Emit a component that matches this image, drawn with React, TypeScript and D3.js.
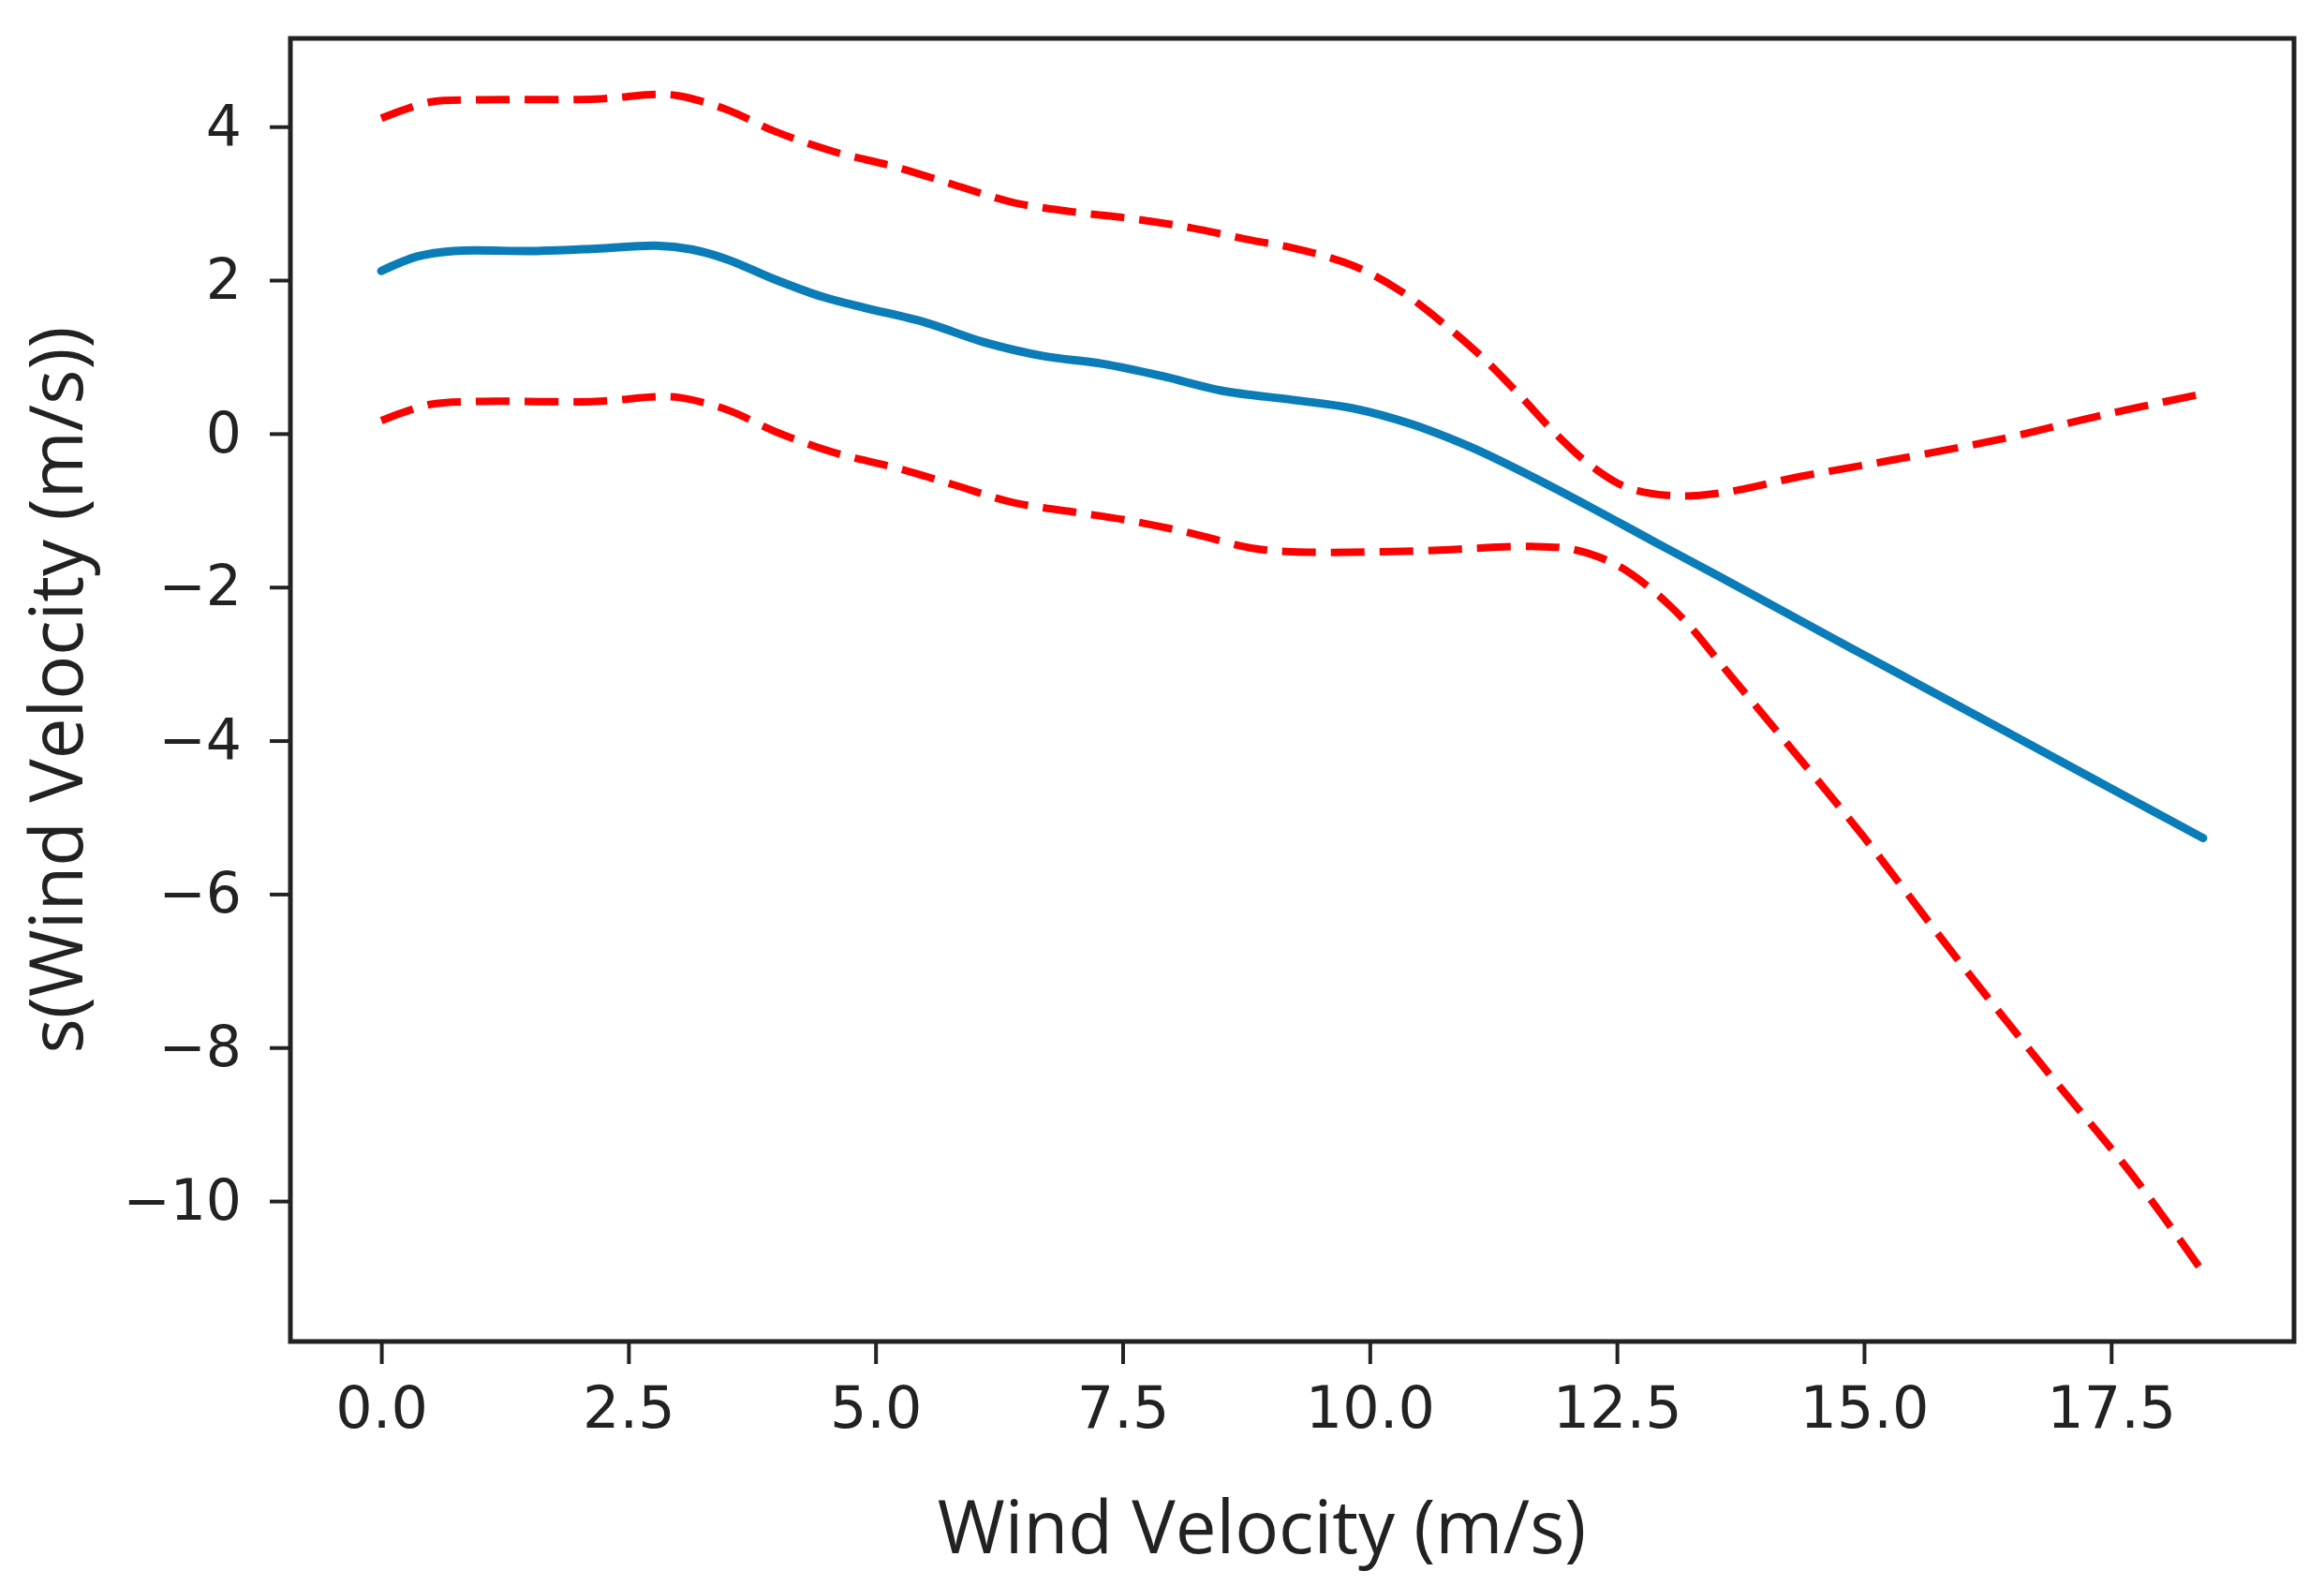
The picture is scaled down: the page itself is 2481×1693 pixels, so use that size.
import { useEffect, useRef } from 'react'
import * as d3 from 'd3'

const W = 2481
const H = 1693

// partial dependence (blue) and its confidence bounds (red dashed)
const meanX = [0, 0.37, 0.73, 1.57, 2.17, 2.78, 3.14, 3.5, 3.98, 4.47, 4.89, 5.5, 6.1, 6.7, 7.3, 7.9, 8.5, 9.22, 9.83, 10.43, 11.03, 11.64, 12.25, 12.85, 13.52, 14.79, 16.06, 17.32, 18.43]
const meanY = [2.12, 2.31, 2.38, 2.38, 2.41, 2.45, 2.40, 2.27, 2.01, 1.78, 1.64, 1.45, 1.19, 1.01, 0.91, 0.75, 0.56, 0.44, 0.33, 0.12, -0.18, -0.56, -0.97, -1.39, -1.85, -2.74, -3.62, -4.50, -5.27]

const upperX = [0, 0.49, 0.97, 2.17, 2.78, 3.02, 3.5, 3.98, 4.59, 5.19, 5.8, 6.4, 7.0, 7.6, 8.2, 8.8, 9.22, 9.83, 10.31, 10.73, 11.15, 11.51, 11.88, 12.24, 12.6, 13.08, 13.57, 14.35, 15.26, 16.46, 17.37, 18.43]
const upperY = [4.11, 4.32, 4.35, 4.36, 4.42, 4.40, 4.22, 3.94, 3.67, 3.48, 3.24, 3.01, 2.89, 2.80, 2.68, 2.52, 2.42, 2.19, 1.86, 1.45, 0.98, 0.51, 0.0, -0.42, -0.70, -0.81, -0.77, -0.56, -0.35, -0.05, 0.23, 0.52]

const lowerX = [0, 0.49, 0.97, 2.17, 2.78, 3.02, 3.5, 3.98, 4.59, 5.19, 5.8, 6.4, 7.0, 7.6, 8.2, 8.8, 9.22, 10.43, 11.64, 12.06, 12.48, 12.85, 13.21, 13.57, 14.1, 15.0, 15.91, 16.82, 17.72, 18.43]
const lowerY = [0.17, 0.38, 0.42, 0.42, 0.48, 0.47, 0.31, 0.03, -0.25, -0.44, -0.67, -0.90, -1.02, -1.14, -1.30, -1.49, -1.54, -1.53, -1.47, -1.51, -1.70, -2.03, -2.47, -3.03, -3.85, -5.26, -6.79, -8.26, -9.67, -10.93]

const xTicks = [0, 2.5, 5, 7.5, 10, 12.5, 15, 17.5]
const yTicks = [4, 2, 0, -2, -4, -6, -8, -10]

const xLabel = 'Wind Velocity (m/s)'
const yLabel = 's(Wind Velocity (m/s))'

export default function App() {
  const svgRef = useRef<SVGSVGElement>(null)

  useEffect(() => {
    const svg = svgRef.current
    if (!svg) return
    const sel = d3.select(svg)
    sel.selectAll('*').remove()

    const margin = { top: 41, right: W - 2449, bottom: H - 1432, left: 310 }
    const iw = W - margin.left - margin.right
    const ih = H - margin.top - margin.bottom

    const x = d3.scaleLinear().domain([-0.92, 19.35]).range([0, iw])
    const y = d3.scaleLinear().domain([-11.83, 5.15]).range([ih, 0])

    sel.append('rect').attr('width', W).attr('height', H).attr('fill', '#fff')

    const g = sel.append('g').attr('transform', `translate(${margin.left},${margin.top})`)

    const line = d3.line<[number, number]>()
      .x(d => x(d[0])).y(d => y(d[1]))
      .curve(d3.curveCatmullRom.alpha(0.5))

    const zip = (xs: number[], ys: number[]) => xs.map((v, i) => [v, ys[i]] as [number, number])

    // 신뢰구간 (빨간 점선)
    ;[zip(upperX, upperY), zip(lowerX, lowerY)].forEach(pts => {
      g.append('path').datum(pts)
        .attr('fill', 'none').attr('stroke', '#ff0000').attr('stroke-width', 8)
        .attr('stroke-dasharray', '36,16')
        .attr('d', line)
    })

    // 평균 곡선
    g.append('path').datum(zip(meanX, meanY))
      .attr('fill', 'none').attr('stroke', '#0a7db8').attr('stroke-width', 9)
      .attr('stroke-linecap', 'round')
      .attr('d', line)

    // x축
    g.append('g')
      .attr('transform', `translate(0,${ih})`)
      .call(d3.axisBottom(x).tickValues(xTicks).tickSize(24).tickPadding(24).tickFormat(d => d3.format('.1f')(d as number)))
      .call(ag => {
        ag.select('.domain').remove()
        ag.selectAll('.tick line').attr('stroke', '#222').attr('stroke-width', 4)
        ag.selectAll('text').attr('fill', '#222').attr('font-size', 62)
          .attr('font-family', '"DejaVu Sans", sans-serif')
      })

    // y축
    g.append('g')
      .call(d3.axisLeft(y).tickValues(yTicks).tickSize(22).tickPadding(30).tickFormat(d => d3.format('d')(d as number).replace('-', '\u2212')))
      .call(ag => {
        ag.select('.domain').remove()
        ag.selectAll('.tick line').attr('stroke', '#222').attr('stroke-width', 4)
        ag.selectAll('text').attr('fill', '#222').attr('font-size', 60)
          .attr('font-family', '"DejaVu Sans", sans-serif')
      })

    // 테두리
    g.append('rect')
      .attr('width', iw).attr('height', ih)
      .attr('fill', 'none').attr('stroke', '#222').attr('stroke-width', 5)

    // 축 제목
    sel.append('text')
      .attr('x', 1347).attr('y', 1658)
      .attr('text-anchor', 'middle')
      .attr('fill', '#222').attr('font-size', 78)
      .attr('font-family', '"Open Sans", sans-serif')
      .text(xLabel)

    sel.append('text')
      .attr('transform', `translate(88,${margin.top + ih / 2}) rotate(-90)`)
      .attr('text-anchor', 'middle')
      .attr('fill', '#222').attr('font-size', 78)
      .attr('font-family', '"Open Sans", sans-serif')
      .text(yLabel)
  }, [])

  return (
    <svg
      ref={svgRef}
      width={W}
      height={H}
      style={{ position: 'absolute', left: 0, top: 0, display: 'block' }}
    />
  )
}
